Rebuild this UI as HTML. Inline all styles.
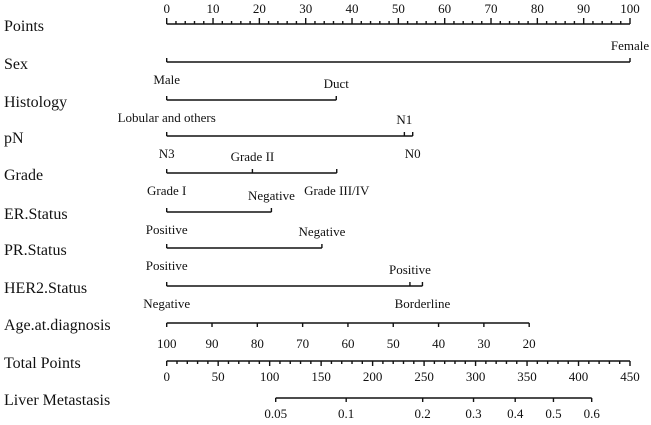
<!DOCTYPE html>
<html><head><meta charset="utf-8">
<style>
html,body{margin:0;padding:0;background:#fff;}
svg{display:block;font-family:"Liberation Serif",serif;}
</style></head>
<body>
<svg id="chart" width="651" height="425" viewBox="0 0 651 425" xmlns="http://www.w3.org/2000/svg"></svg>
<script>
// Data arrays
const rowNames = ["Points","Sex","Histology","pN","Grade","ER.Status","PR.Status","HER2.Status","Age.at.diagnosis","Total Points","Liver Metastasis"];
const sexPoints = [0, 100];
const sexLabels = ["Male","Female"];
const histPoints = [0, 36.6];
const histLabels = ["Lobular and others","Duct"];
const pnPoints = [0, 51.3, 53.1];
const pnLabels = ["N3","N1","N0"];
const gradePoints = [0, 18.5, 36.7];
const gradeLabels = ["Grade I","Grade II","Grade III/IV"];
const erPoints = [0, 22.6];
const erLabels = ["Positive","Negative"];
const prPoints = [0, 33.5];
const prLabels = ["Positive","Negative"];
const her2Points = [0, 52.5, 55.2];
const her2Labels = ["Negative","Positive","Borderline"];
const ageValues = [100,90,80,70,60,50,40,30,20];
const agePointsPerYear = 0.978;
const pointTicks = [0,10,20,30,40,50,60,70,80,90,100];
const totalTicks = [0,50,100,150,200,250,300,350,400,450];
const riskTicks = [0.05,0.1,0.2,0.3,0.4,0.5,0.6];
const riskLabels = ["0.05","0.1","0.2","0.3","0.4","0.5","0.6"];

const svg = document.getElementById('chart');
const NS = "http://www.w3.org/2000/svg";
const X0 = 166.7, X1 = 630;
const px = p => X0 + (X1 - X0) * p / 100;
const tx = t => X0 + (X1 - X0) * t / 450;
const logit = p => Math.log(p / (1 - p));
const rx = p => 275.7 + (591.7 - 275.7) * (logit(p) - logit(0.05)) / (logit(0.6) - logit(0.05));
const rowY = [24,62,100,136,173,212,248,286,323,361,398];

function line(x1,y1,x2,y2,name){
  const l=document.createElementNS(NS,'line');
  l.setAttribute('x1',x1);l.setAttribute('y1',y1);l.setAttribute('x2',x2);l.setAttribute('y2',y2);
  l.setAttribute('stroke','#111');l.setAttribute('stroke-width','1.4');
  
  
  svg.appendChild(l);
}
function text(x,y,s,size,anchor,name){
  const t=document.createElementNS(NS,'text');
  t.setAttribute('x',x);t.setAttribute('y',y);t.setAttribute('font-size',size);
  t.setAttribute('text-anchor',anchor);t.setAttribute('fill','#111');
  t.textContent=s;
  
  
  svg.appendChild(t);
}
// row labels
rowNames.forEach((n,i)=>{ text(4, rowY[i]+7, n, 16, 'start', 'row-label'); });

// Points axis
line(px(0),rowY[0],px(100),rowY[0],'points-axis');
for(let p=0;p<=100;p+=2){
  const major = p%10===0;
  line(px(p),rowY[0],px(p),rowY[0]-(major?6:3),'points-tick');
}
pointTicks.forEach(p=>text(px(p),rowY[0]-11,String(p),13,'middle','points-tick-label'));

// categorical rows
function catRow(idx, pts, labels, above){
  const y=rowY[idx];
  const mx=Math.max(...pts);
  line(px(0),y,px(mx),y,'row-line');
  pts.forEach((p,i)=>{
    line(px(p),y,px(p),y-4,'row-tick');
    const a=above[i];
    text(px(p), a? y-12 : y+22, labels[i], 13, 'middle', 'value-label');
  });
}
catRow(1,sexPoints,sexLabels,[false,true]);
catRow(2,histPoints,histLabels,[false,true]);
catRow(3,pnPoints,pnLabels,[false,true,false]);
catRow(4,gradePoints,gradeLabels,[false,true,false]);
catRow(5,erPoints,erLabels,[false,true]);
catRow(6,prPoints,prLabels,[false,true]);
catRow(7,her2Points,her2Labels,[false,true,false]);

// Age
{
  const y=rowY[8];
  const ap=v=>(100-v)*agePointsPerYear;
  line(px(ap(ageValues[0])),y,px(ap(ageValues[ageValues.length-1])),y,'age-line');
  ageValues.forEach(v=>{
    line(px(ap(v)),y,px(ap(v)),y+4,'age-tick');
    text(px(ap(v)),y+25,String(v),13,'middle','age-tick-label');
  });
}
// Total points
{
  const y=rowY[9];
  line(tx(0),y,tx(450),y,'total-points-axis');
  for(let t=0;t<=450;t+=10){
    const major=t%50===0;
    line(tx(t),y,tx(t),y+(major?5:3),'total-tick');
  }
  totalTicks.forEach(t=>text(tx(t),y+20,String(t),13,'middle','total-tick-label'));
}
// Liver metastasis
{
  const y=rowY[10];
  line(rx(riskTicks[0]),y,rx(riskTicks[riskTicks.length-1]),y,'risk-axis');
  riskTicks.forEach((r,i)=>{
    line(rx(r),y,rx(r),y+4,'risk-tick');
    text(rx(r),y+20,riskLabels[i],13,'middle','risk-tick-label');
  });
}
</script>
</body></html>
